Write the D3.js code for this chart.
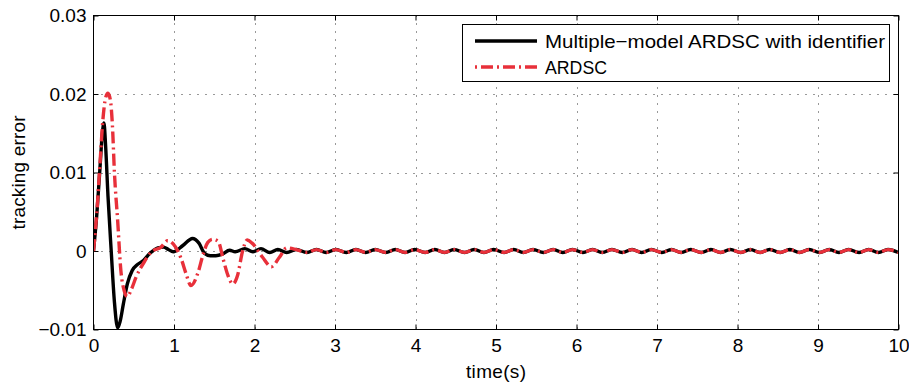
<!DOCTYPE html>
<html>
<head>
<meta charset="utf-8">
<script src="https://cdn.jsdelivr.net/npm/d3@7"></script>
<style>
  html, body { margin: 0; padding: 0; background: #fff; }
  svg { display: block; }
  text { font-family: "Liberation Sans", Arial, Helvetica, sans-serif; fill: #000; }
</style>
</head>
<body>
<svg id="chart" width="909" height="385"></svg>
<script>
// ---------------- data ----------------
const xTicks = [0, 1, 2, 3, 4, 5, 6, 7, 8, 9, 10];
const xTickLabels = ["0", "1", "2", "3", "4", "5", "6", "7", "8", "9", "10"];
const yTicks = [-0.01, 0, 0.01, 0.02, 0.03];
const yTickLabels = ["\u22120.01", "0", "0.01", "0.02", "0.03"];
const seriesNames = ["Multiple\u2212model ARDSC with identifier", "ARDSC"];

// transient part
const timeBlackTransient = [0, 0.04, 0.08, 0.11, 0.13, 0.15, 0.18, 0.22, 0.26, 0.30, 0.33, 0.37, 0.42, 0.48, 0.55, 0.62, 0.70, 0.80, 0.87, 0.93, 0.99, 1.11, 1.23, 1.31, 1.38, 1.45, 1.52, 1.60, 1.69, 1.76, 1.88, 1.98, 2.08, 2.19, 2.29, 2.40];
const errBlackTransient = [0, 0.0045, 0.0105, 0.0150, 0.0163, 0.0135, 0.0070, 0.0000, -0.0065, -0.0098, -0.0090, -0.0068, -0.0042, -0.0025, -0.0017, -0.0012, -0.0003, 0.0004, 0.0005, 0.0002, -0.0001, 0.0007, 0.0016, 0.0010, -0.0003, -0.0006, -0.0006, -0.0004, 0.0001, -0.0001, 0.0003, -0.0001, 0.0003, -0.0002, 0.0002, -0.0002];

const timeRedTransient = [0, 0.04, 0.08, 0.115, 0.15, 0.18, 0.21, 0.235, 0.26, 0.30, 0.34, 0.38, 0.42, 0.47, 0.53, 0.63, 0.72, 0.84, 0.92, 0.99, 1.09, 1.15, 1.21, 1.30, 1.36, 1.42, 1.48, 1.55, 1.61, 1.67, 1.73, 1.79, 1.85, 1.91, 1.97, 2.10, 2.21, 2.31, 2.40];
const errRedTransient = [0, 0.0047, 0.0110, 0.0165, 0.0195, 0.0201, 0.0192, 0.0160, 0.0100, 0.0039, -0.0025, -0.0050, -0.0058, -0.0049, -0.0033, -0.0014, -0.0001, 0.0005, 0.0013, 0.0009, -0.0010, -0.0029, -0.0044, -0.0027, -0.0005, 0.0011, 0.0015, 0.0012, -0.0010, -0.0031, -0.0042, -0.0031, -0.0001, 0.0014, 0.0010, -0.0008, -0.0020, -0.0008, 0.0004];

// steady small oscillation: peak / trough times
const timeSteady = [2.52, 2.65, 2.77, 2.89, 3.01, 3.14, 3.26, 3.38, 3.50, 3.63, 3.75, 3.87, 3.99, 4.12, 4.24, 4.36, 4.48, 4.61, 4.73, 4.85, 4.97, 5.10, 5.22, 5.34, 5.46, 5.59, 5.71, 5.83, 5.95, 6.08, 6.20, 6.32, 6.44, 6.57, 6.69, 6.81, 6.93, 7.06, 7.18, 7.30, 7.42, 7.55, 7.67, 7.79, 7.91, 8.04, 8.16, 8.28, 8.40, 8.53, 8.65, 8.77, 8.89, 9.02, 9.14, 9.26, 9.38, 9.51, 9.63, 9.75, 9.87, 10.0];
const errBlackSteady = [0.0002, -0.0002, 0.0002, -0.0002, 0.0002, -0.0002, 0.0002, -0.0002, 0.0002, -0.0002, 0.0002, -0.0002, 0.0002, -0.0002, 0.0002, -0.0002, 0.0002, -0.0002, 0.0002, -0.0002, 0.0002, -0.0002, 0.0002, -0.0002, 0.0002, -0.0002, 0.0002, -0.0002, 0.0002, -0.0002, 0.0002, -0.0002, 0.0002, -0.0002, 0.0002, -0.0002, 0.0002, -0.0002, 0.0002, -0.0002, 0.0002, -0.0002, 0.0002, -0.0002, 0.0002, -0.0002, 0.0002, -0.0002, 0.0002, -0.0002, 0.0002, -0.0002, 0.0002, -0.0002, 0.0002, -0.0002, 0.0002, -0.0002, 0.0002, -0.0002, 0.0002, -0.0002];
const errRedSteady = [0.00018, -0.00018, 0.00018, -0.00018, 0.00018, -0.00018, 0.00018, -0.00018, 0.00018, -0.00018, 0.00018, -0.00018, 0.00018, -0.00018, 0.00018, -0.00018, 0.00018, -0.00018, 0.00018, -0.00018, 0.00018, -0.00018, 0.00018, -0.00018, 0.00018, -0.00018, 0.00018, -0.00018, 0.00018, -0.00018, 0.00018, -0.00018, 0.00018, -0.00018, 0.00018, -0.00018, 0.00018, -0.00018, 0.00018, -0.00018, 0.00018, -0.00018, 0.00018, -0.00018, 0.00018, -0.00018, 0.00018, -0.00018, 0.00018, -0.00018, 0.00018, -0.00018, 0.00018, -0.00018, 0.00018, -0.00018, 0.00018, -0.00018, 0.00018, -0.00018, 0.00018, -0.00018];

// ---------------- layout ----------------
const svg = d3.select("#chart");
const pL = 93.5, pR = 898.5, pT = 15.5, pB = 329.5;
const x = d3.scaleLinear().domain([0, 10]).range([pL, pR]);
const y = d3.scaleLinear().domain([-0.01, 0.03]).range([pB, pT]);

svg.append("rect").attr("width", 909).attr("height", 385).attr("fill", "#fff");

// grid
const grid = svg.append("g").attr("stroke", "#333").attr("stroke-width", 1).attr("stroke-dasharray", "1,7");
grid.selectAll("line.gx").data(xTicks.slice(1, -1)).enter().append("line")
  .attr("x1", d => Math.round(x(d)) + 0.5).attr("x2", d => Math.round(x(d)) + 0.5)
  .attr("y1", pT).attr("y2", pB);
grid.selectAll("line.gy").data(yTicks.slice(1, -1)).enter().append("line")
  .attr("y1", d => Math.round(y(d)) + 0.5).attr("y2", d => Math.round(y(d)) + 0.5)
  .attr("x1", pL).attr("x2", pR);

// axes
const fs = 19;
const xAxisB = d3.axisBottom(x).tickValues(xTicks).tickSize(-5).tickPadding(9).tickFormat((d, i) => xTickLabels[i]);
const xAxisT = d3.axisTop(x).tickValues(xTicks).tickSize(-5).tickFormat("");
const yAxisL = d3.axisLeft(y).tickValues(yTicks).tickSize(-5).tickPadding(7).tickFormat((d, i) => yTickLabels[i]);
const yAxisR = d3.axisRight(y).tickValues(yTicks).tickSize(-5).tickFormat("");

function styleAxis(g) {
  g.select(".domain").remove();
  g.selectAll(".tick line").attr("stroke", "#000");
  g.selectAll(".tick text").attr("font-size", fs).attr("font-family", "Liberation Sans, Arial, sans-serif").attr("fill", "#000");
}
svg.append("g").attr("transform", `translate(0,${pB})`).call(xAxisB).call(styleAxis);
svg.append("g").attr("transform", `translate(0,${pT})`).call(xAxisT).call(styleAxis);
svg.append("g").attr("transform", `translate(${pL},0)`).call(yAxisL).call(styleAxis);
svg.append("g").attr("transform", `translate(${pR},0)`).call(yAxisR).call(styleAxis);

// clip
svg.append("clipPath").attr("id", "clip").append("rect")
  .attr("x", pL).attr("y", pT).attr("width", pR - pL).attr("height", pB - pT);

const line = d3.line().x(d => x(d[0])).y(d => y(d[1])).curve(d3.curveMonotoneX);

const blackPts = timeBlackTransient.map((t, i) => [t, errBlackTransient[i]])
  .concat(timeSteady.map((t, i) => [t, errBlackSteady[i]]));
const redPts = timeRedTransient.map((t, i) => [t, errRedTransient[i]])
  .concat(timeSteady.map((t, i) => [t, errRedSteady[i]]));

const plot = svg.append("g").attr("clip-path", "url(#clip)");
plot.append("path").datum(blackPts).attr("d", line)
  .attr("fill", "none").attr("stroke", "#000").attr("stroke-width", 3.4).attr("stroke-linejoin", "round");
plot.append("path").datum(redPts).attr("d", line)
  .attr("fill", "none").attr("stroke", "#e8303a").attr("stroke-width", 3.4)
  .attr("stroke-dasharray", "12,4,2,4");

// frame
svg.append("rect").attr("x", pL).attr("y", pT).attr("width", pR - pL).attr("height", pB - pT)
  .attr("fill", "none").attr("stroke", "#000").attr("stroke-width", 1);

// axis titles
svg.append("text").attr("x", (pL + pR) / 2).attr("y", 378).attr("text-anchor", "middle")
  .attr("font-size", fs).attr("textLength", 60).text("time(s)");
svg.append("text").attr("transform", `translate(25,${(pT + pB) / 2}) rotate(-90)`).attr("text-anchor", "middle")
  .attr("font-size", fs).attr("textLength", 114).text("tracking error");

// legend
const lg = svg.append("g");
lg.append("rect").attr("x", 462.5).attr("y", 24.5).attr("width", 427).attr("height", 57)
  .attr("fill", "#fff").attr("stroke", "#000").attr("stroke-width", 1);
const rows = [
  { name: seriesNames[0], color: "#000", dash: null, cy: 41, len: 340 },
  { name: seriesNames[1], color: "#e8303a", dash: "2,4,12,4", cy: 67, len: 62 }
];
rows.forEach(r => {
  lg.append("line").attr("x1", 475).attr("x2", 537).attr("y1", r.cy).attr("y2", r.cy)
    .attr("stroke", r.color).attr("stroke-width", 3.4).attr("stroke-dasharray", r.dash);
  lg.append("text").attr("x", 545).attr("y", r.cy).attr("dy", "0.35em").attr("font-size", fs)
    .attr("textLength", r.len).attr("lengthAdjust", "spacingAndGlyphs").text(r.name);
});
</script>
</body>
</html>
